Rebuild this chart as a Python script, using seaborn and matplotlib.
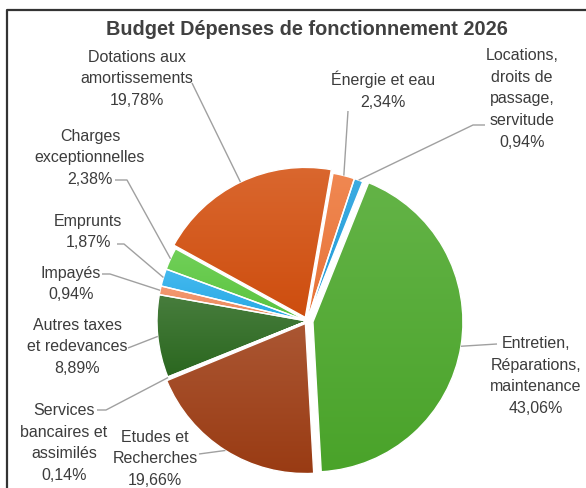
import numpy as np
import matplotlib
matplotlib.use("Agg")
import matplotlib.pyplot as plt
import matplotlib.patches as mpatches
import matplotlib.colors as mcolors
import seaborn as sns

# ---- data ----
categories = ["Énergie et eau", "Locations,\ndroits de\npassage,\nservitude",
              "Entretien,\nRéparations,\nmaintenance", "Etudes et\nRecherches",
              "Services\nbancaires et\nassimilés", "Autres taxes\net redevances",
              "Impayés", "Emprunts", "Charges\nexceptionnelles",
              "Dotations aux\namortissements"]
values = [2.34, 0.94, 43.06, 19.66, 0.14, 8.89, 0.94, 1.87, 2.38, 19.78]
colors = ["#EE7638", "#1F9FDD", "#4CA82B", "#9E3D14", "#2E8FC9",
          "#2C6A20", "#F28A5C", "#28AEEC", "#5CC940", "#D4500F"]
title = "Budget Dépenses de fonctionnement 2026"

# ---- layout (pixel coordinates, y from top) ----
W, H = 586, 489
CX, CY, R = 307, 322, 150
explode = [0, 0, 6, 3, 0, 0, 0, 0, 0, 4]
label_pos = [(383, 90), (522, 99), (536, 376), (155, 459), (64, 443),
             (77, 347), (71, 284), (88, 232), (90, 158), (137, 79)]
leader_pts = [[(348, 112)], [(485, 126), (473, 126)], [(497, 345)],
              [(199, 455)], [(97, 411), (106, 411)], [(128, 349)],
              [(102, 275), (110, 275)], [(117, 245), (124, 245)],
              [(115, 181), (127, 181)], [(192, 84)]]

sns.set_theme(style="white")
plt.rcParams["font.family"] = ["Liberation Sans", "DejaVu Sans"]
pal = sns.color_palette(colors)

fig = plt.figure(figsize=(W / 100, H / 100), dpi=100)
ax = fig.add_axes([0, 0, 1, 1])

def py(y):
    return H - y

wedges, _ = ax.pie(values, colors=pal, startangle=80, counterclock=False,
                   radius=R, center=(CX, py(CY)), explode=explode,
                   wedgeprops=dict(edgecolor="white", linewidth=1.0))

# soft vertical gradient inside each slice
for w, c in zip(wedges, pal):
    ext = w.get_path().get_extents()
    base = np.array(mcolors.to_rgb(c))
    top = base * 0.87 + 0.13
    bot = base * 0.97
    n = 64
    t = np.linspace(0, 1, n)[:, None]
    grad = (top[None, :] * (1 - t) + bot[None, :] * t)[:, None, :]
    im = ax.imshow(grad, extent=[ext.x0, ext.x1, ext.y0, ext.y1], origin="upper",
                   aspect="auto", zorder=1.5, interpolation="bilinear")
    im.set_clip_path(w)
    outline = mpatches.Wedge(w.center, w.r, w.theta1, w.theta2, facecolor="none",
                             edgecolor="white", linewidth=1.0, zorder=2)
    ax.add_patch(outline)

# labels and leader lines
txt_color = "#3C3C3C"
line_color = "#A0A0A0"
for w, cat, v, (lx, ly), pts in zip(wedges, categories, values, label_pos, leader_pts):
    pct = f"{v:.2f}".replace(".", ",") + "%"
    ax.text(lx, py(ly), f"{cat}\n{pct}", ha="center", va="center",
            fontsize=11.5, color=txt_color, linespacing=1.58, zorder=4)
    mid = np.deg2rad((w.theta1 + w.theta2) / 2)
    ex, ey = w.center[0] + w.r * np.cos(mid), w.center[1] + w.r * np.sin(mid)
    xs = [p[0] for p in pts] + [ex]
    ys = [py(p[1]) for p in pts] + [ey]
    ax.plot(xs, ys, color=line_color, lw=1.0, zorder=3, solid_capstyle="butt")

ax.text(307, py(30), title, ha="center", va="center", fontsize=14.3,
        fontweight="bold", color="#404040")

# chart frame (partially cropped)
ax.plot([7, 7, W + 20], [-20, py(11), py(11)], color="#333333", lw=1.6,
        clip_on=False, zorder=5)

ax.set_xlim(0, W)
ax.set_ylim(0, H)
ax.set_aspect("equal")
ax.axis("off")
fig.savefig("out.png", dpi=100, facecolor="white")
